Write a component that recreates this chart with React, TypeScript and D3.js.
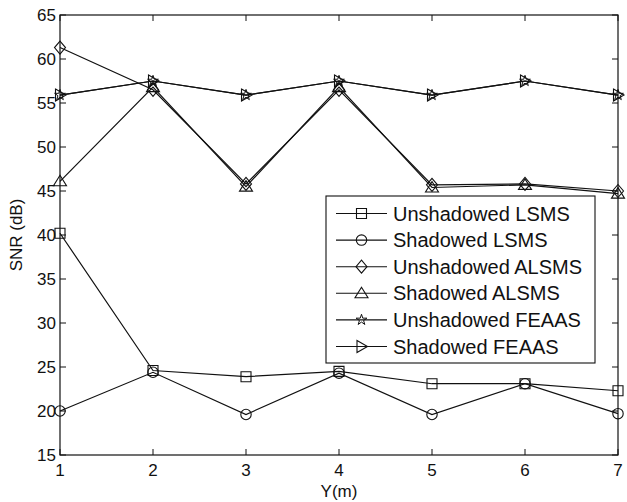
import React from "react";
import * as d3 from "d3";

const xValues = [1, 2, 3, 4, 5, 6, 7];
const unshadowedLSMS = [40.2, 24.6, 23.9, 24.5, 23.1, 23.1, 22.3];
const shadowedLSMS = [20.0, 24.4, 19.6, 24.3, 19.6, 23.1, 19.7];
const unshadowedALSMS = [61.3, 56.5, 45.8, 56.5, 45.7, 45.8, 45.0];
const shadowedALSMS = [46.1, 56.8, 45.5, 56.8, 45.4, 45.7, 44.7];
const unshadowedFEAAS = [55.9, 57.5, 55.9, 57.5, 55.9, 57.5, 55.9];
const shadowedFEAAS = [55.9, 57.5, 55.9, 57.5, 55.9, 57.5, 55.9];
const seriesNames = [
  "Unshadowed LSMS",
  "Shadowed LSMS",
  "Unshadowed ALSMS",
  "Shadowed ALSMS",
  "Unshadowed FEAAS",
  "Shadowed FEAAS",
];
const xTicks = [1, 2, 3, 4, 5, 6, 7];
const yTicks = [15, 20, 25, 30, 35, 40, 45, 50, 55, 60, 65];
const xLabel = "Y(m)";
const yLabel = "SNR (dB)";

const W = 627;
const H = 502;
const M = { left: 60, right: 9, top: 15, bottom: 47 };
const FONT = "'Liberation Sans', Arial, Helvetica, sans-serif";
const INK = "#111";

type MarkerKind = "square" | "circle" | "diamond" | "triangle" | "star" | "right";
const markers: MarkerKind[] = ["square", "circle", "diamond", "triangle", "star", "right"];

function markerPath(kind: MarkerKind, cx: number, cy: number): string {
  switch (kind) {
    case "square": {
      const s = 5;
      return `M${cx - s},${cy - s}H${cx + s}V${cy + s}H${cx - s}Z`;
    }
    case "circle": {
      const r = 5.2;
      return `M${cx - r},${cy}A${r},${r} 0 1,0 ${cx + r},${cy}A${r},${r} 0 1,0 ${cx - r},${cy}Z`;
    }
    case "diamond": {
      const w = 5.5, h = 6.5;
      return `M${cx},${cy - h}L${cx + w},${cy}L${cx},${cy + h}L${cx - w},${cy}Z`;
    }
    case "triangle": {
      const w = 6.5, h = 6;
      return `M${cx},${cy - h}L${cx + w},${cy + h * 0.75}L${cx - w},${cy + h * 0.75}Z`;
    }
    case "right": {
      const w = 6, h = 6;
      return `M${cx - w * 0.75},${cy - h}L${cx + w},${cy}L${cx - w * 0.75},${cy + h}Z`;
    }
    case "star": {
      const p = d3.symbol().type(d3.symbolStar).size(36)() as string;
      return p;
    }
  }
  return "";
}

function Marker({ kind, cx, cy }: { kind: MarkerKind; cx: number; cy: number }) {
  if (kind === "star") {
    return (
      <path
        d={markerPath("star", 0, 0)}
        transform={`translate(${cx},${cy})`}
        fill="none"
        stroke={INK}
        strokeWidth={1}
      />
    );
  }
  return <path d={markerPath(kind, cx, cy)} fill="none" stroke={INK} strokeWidth={1.1} />;
}

export default function App() {
  const x = d3.scaleLinear().domain([1, 7]).range([M.left, W - M.right]);
  const y = d3.scaleLinear().domain([15, 65]).range([H - M.bottom, M.top]);
  const series = [
    unshadowedLSMS,
    shadowedLSMS,
    unshadowedALSMS,
    shadowedALSMS,
    unshadowedFEAAS,
    shadowedFEAAS,
  ];
  const line = d3
    .line<number>()
    .x((_, i) => x(xValues[i]))
    .y((d) => y(d));

  const left = M.left, right = W - M.right, top = M.top, bottom = H - M.bottom;
  const tick = 6;

  const legX = 326, legY = 196, legW = 269, legH = 167;
  const rowY0 = 213.5, rowStep = 26.6;

  return (
    <svg
      width={W}
      height={H}
      style={{ position: "absolute", left: 0, top: 0, background: "#fff" }}
      fontFamily={FONT}
    >
      <rect x={0} y={0} width={W} height={H} fill="#fff" />
      {xTicks.map((t) => (
        <g key={"xt" + t}>
          <line x1={x(t)} x2={x(t)} y1={bottom} y2={bottom - tick} stroke={INK} strokeWidth={1} />
          <line x1={x(t)} x2={x(t)} y1={top} y2={top + tick} stroke={INK} strokeWidth={1} />
          <text x={x(t)} y={bottom + 21} fontSize={17} textAnchor="middle" fill={INK}>
            {t}
          </text>
        </g>
      ))}
      {yTicks.map((t) => (
        <g key={"yt" + t}>
          <line x1={left} x2={left + tick} y1={y(t)} y2={y(t)} stroke={INK} strokeWidth={1} />
          <line x1={right} x2={right - tick} y1={y(t)} y2={y(t)} stroke={INK} strokeWidth={1} />
          <text x={left - 4} y={y(t) + 6} fontSize={17} textAnchor="end" fill={INK}>
            {t}
          </text>
        </g>
      ))}
      {series.map((s, si) => (
        <path key={"l" + si} d={line(s) || ""} fill="none" stroke={INK} strokeWidth={1.2} />
      ))}
      {series.map((s, si) => (
        <g key={"m" + si}>
          {s.map((v, i) => (
            <Marker key={i} kind={markers[si]} cx={x(xValues[i])} cy={y(v)} />
          ))}
        </g>
      ))}
      <rect x={left} y={top} width={right - left} height={bottom - top} fill="none" stroke={INK} strokeWidth={1.2} />
      <text x={(left + right) / 2} y={497} fontSize={17} textAnchor="middle" fill={INK}>
        {xLabel}
      </text>
      <text
        transform={`translate(22,${(top + bottom) / 2}) rotate(-90)`}
        fontSize={17}
        textAnchor="middle"
        fill={INK}
      >
        {yLabel}
      </text>
      <rect x={legX} y={legY} width={legW} height={legH} fill="#fff" stroke={INK} strokeWidth={1.1} />
      {seriesNames.map((name, i) => {
        const ry = rowY0 + i * rowStep;
        return (
          <g key={"lg" + i}>
            <line x1={336} x2={387} y1={ry} y2={ry} stroke={INK} strokeWidth={1.1} />
            <Marker kind={markers[i]} cx={361.5} cy={ry} />
            <text x={393} y={ry + 7} fontSize={20} fill={INK}>
              {name}
            </text>
          </g>
        );
      })}
    </svg>
  );
}
